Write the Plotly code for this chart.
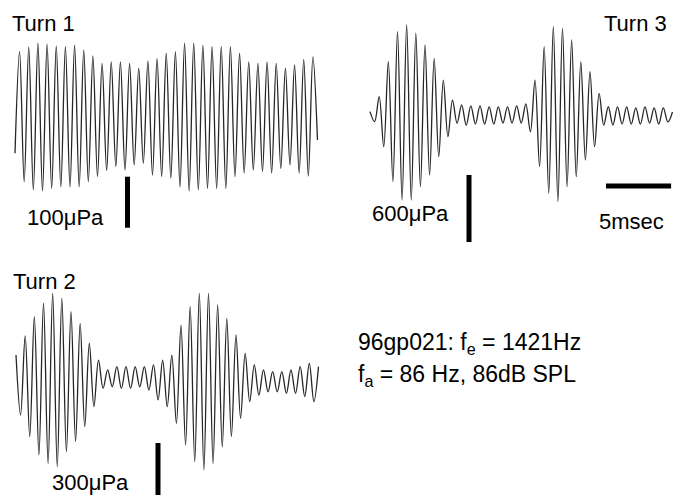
import plotly.graph_objects as go

# ---------------- data ----------------
FE_HZ = 1421                      # carrier frequency (from caption)
HALF_PERIOD_MS = 1000.0 / (2 * FE_HZ)

# successive extrema (peak / trough) of each recorded waveform, in µPa
turn1_extrema_upa = [
    -72, 127, -128, 136, -144, 144, -146, 142, -141, 138, -138, 137, -138, 140,
    -138, 130, -128, 119, -118, 104, -106, 107, -98, 107, -105, 104, -95, 95,
    -92, 109, -115, 114, -118, 124, -121, 127, -138, 144, -146, 144, -144, 140,
    -141, 137, -141, 137, -141, 137, -118, 124, -111, 107, -105, 104, -108, 107,
    -111, 104, -102, 95, -95, 101, -111, 112, -117, 117, -46,
]
turn2_extrema_upa = [
    144, -202, 254, -327, 365, -433, 443, -481, 500, -500, 471, -414, 394, -356,
    327, -269, 212, -154, 115, -48, 58, -39, 77, -48, 77, -48, 77, -39, 77, -58,
    87, -115, 115, -154, 144, -250, 317, -375, 423, -471, 500, -519, 500, -481,
    433, -385, 356, -327, 260, -221, 154, -125, 87, -87, 58, -68, 48, -68, 48,
    -77, 58, -77, 77, -96, 96, -125, 77,
]
turn3_extrema_upa = [
    21, -69, 155, -293, 468, -606, 737, -770, 797, -770, 723, -651, 618, -546,
    499, -382, 304, -203, 125, -83, 81, -99, 72, -90, 72, -90, 63, -90, 63, -81,
    63, -81, 72, -81, 90, -159, 304, -472, 603, -710, 782, -785, 767, -651, 663,
    -561, 468, -412, 379, -293, 185, -99, 65, -99, 63, -90, 63, -90, 54, -90, 63,
    -81, 54, -90, 54, -72, 18,
]

panel_titles = ["Turn 1", "Turn 2", "Turn 3"]
scale_bar_upa = [100, 300, 600]
scale_labels = ["100μPa", "300μPa", "600μPa"]
time_bar_ms = 5
time_label = "5msec"
caption_lines = ["96gp021: f<sub>e</sub> = 1421Hz", "f<sub>a</sub> = 86 Hz, 86dB SPL"]

# ---------------- layout geometry ----------------
W, H = 674, 496
PX_PER_MS = 4.583 / HALF_PERIOD_MS
FONT = "Liberation Sans, Arial, sans-serif"
FS = 22

# start pixel (x), centre-line pixel (y), pixels per µPa
panels = [
    dict(data=turn1_extrema_upa, x0=15, yc=116.5, k=51 / 100),
    dict(data=turn2_extrema_upa, x0=16, yc=380.0, k=52 / 300),
    dict(data=turn3_extrema_upa, x0=370, yc=114.0, k=67 / 600),
]
# scale bar placement: (x pixel, top pixel)
bar_pos = [(127.5, 176.7), (158, 443), (469, 175)]

fig = go.Figure()
layout = dict(
    width=W, height=H, margin=dict(l=0, r=0, t=0, b=0),
    paper_bgcolor="white", plot_bgcolor="rgba(0,0,0,0)", showlegend=False,
)

for i, p in enumerate(panels):
    n = i + 1
    xa = "x" if n == 1 else f"x{n}"
    ya = "y" if n == 1 else f"y{n}"
    xr = [-p["x0"] / PX_PER_MS, (W - p["x0"]) / PX_PER_MS]
    yr = [-(H - p["yc"]) / p["k"], p["yc"] / p["k"]]
    key = "" if n == 1 else str(n)
    xdef = dict(domain=[0, 1], range=xr, visible=False, anchor=ya, fixedrange=True)
    ydef = dict(domain=[0, 1], range=yr, visible=False, anchor=xa, fixedrange=True)
    if n > 1:
        xdef["overlaying"] = "x"
        ydef["overlaying"] = "y"
    layout["xaxis" + key] = xdef
    layout["yaxis" + key] = ydef
    vals = p["data"]
    t = [j * HALF_PERIOD_MS for j in range(len(vals))]
    fig.add_trace(go.Scatter(
        x=t, y=vals, mode="lines", xaxis=xa, yaxis=ya,
        line=dict(color="#262626", width=1.3, shape="spline", smoothing=1.0),
        hoverinfo="skip"))
    # amplitude scale bar
    bx, btop = bar_pos[i]
    tb = (bx - p["x0"]) / PX_PER_MS
    vtop = (p["yc"] - btop) / p["k"]
    fig.add_trace(go.Scatter(
        x=[tb, tb], y=[vtop, vtop - scale_bar_upa[i]], mode="lines",
        xaxis=xa, yaxis=ya, line=dict(color="black", width=5), hoverinfo="skip"))
    if n == 3:
        # time scale bar
        ty = (p["yc"] - 186) / p["k"]
        t0 = (606 - p["x0"]) / PX_PER_MS
        fig.add_trace(go.Scatter(
            x=[t0, t0 + time_bar_ms], y=[ty, ty], mode="lines",
            xaxis=xa, yaxis=ya, line=dict(color="black", width=5), hoverinfo="skip"))

fig.update_layout(**layout)


def ann(text, px, py, xanchor="left", size=FS):
    fig.add_annotation(text=text, x=px / W, y=1 - py / H, xref="paper", yref="paper",
                       xanchor=xanchor, yanchor="middle", showarrow=False,
                       font=dict(family=FONT, size=size, color="black"))


ann(panel_titles[0], 10, 23)
ann(panel_titles[2], 669, 23, xanchor="right")
ann(panel_titles[1], 11, 281)
ann(scale_labels[0], 25, 217)
ann(scale_labels[2], 370, 214)
ann(time_label, 597, 221)
ann(scale_labels[1], 50, 482)
ann(caption_lines[0], 356, 343, size=23)
ann(caption_lines[1], 356, 375, size=23)

fig.write_html("out.html")
